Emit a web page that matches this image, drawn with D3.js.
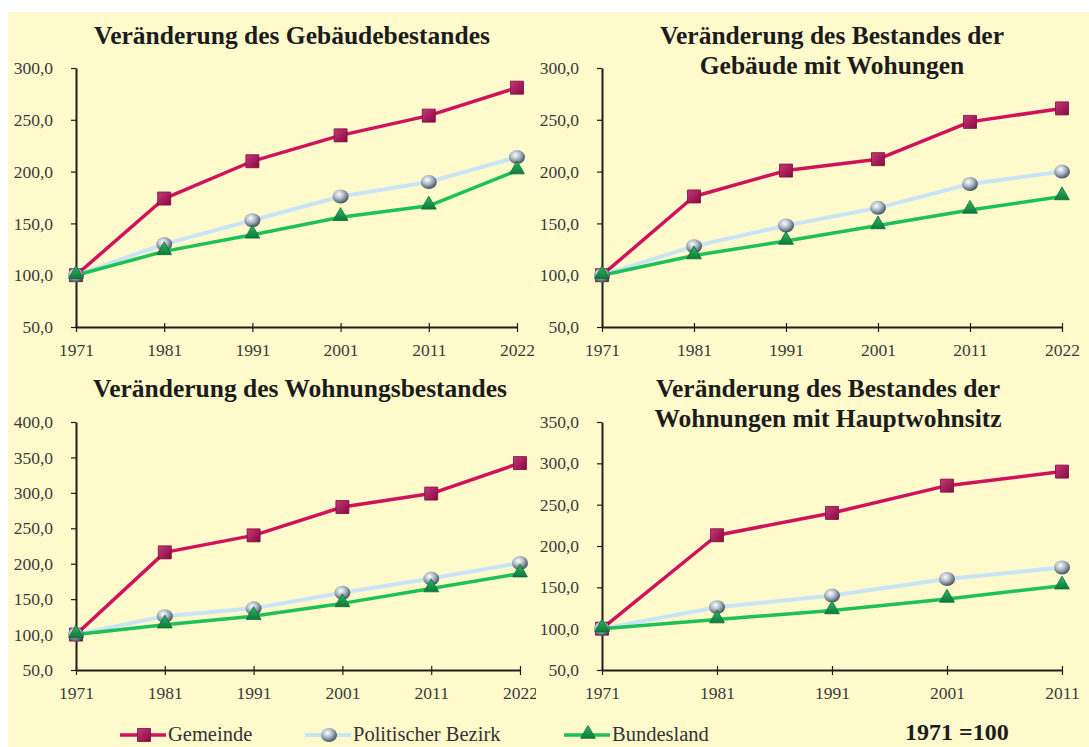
<!DOCTYPE html>
<html>
<head>
<meta charset="utf-8">
<script src="https://cdnjs.cloudflare.com/ajax/libs/d3/7.8.5/d3.min.js"></script>
<style>
  body { margin: 0; background: #fff; }
  svg { display: block; }
  .tick text { font-family: "Liberation Serif", serif; font-size: 17.5px; fill: #3a3a3a; }
  .title { font-family: "Liberation Serif", serif; font-weight: bold; font-size: 25.5px; fill: #1c1c1c; text-anchor: middle; }
  .legend text { font-family: "Liberation Serif", serif; font-size: 20.5px; fill: #333; }
  .note { font-family: "Liberation Serif", serif; font-weight: bold; font-size: 24px; fill: #1c1c1c; }
</style>
</head>
<body>
<div id="chart"></div>
<script>
// categories
var yearsLong = ["1971", "1981", "1991", "2001", "2011", "2022"];
var yearsShort = ["1971", "1981", "1991", "2001", "2011"];
var seriesNames = ["Gemeinde", "Politischer Bezirk", "Bundesland"];

// Gebäudebestand (1971 = 100)
var gebGemeinde = [100, 174, 210, 235, 254, 281];
var gebBezirk = [100, 130, 153, 176, 190, 214];
var gebLand = [100, 123, 139, 156, 167, 201];

// Gebäude mit Wohnungen
var gwoGemeinde = [100, 176, 201, 212, 248, 261];
var gwoBezirk = [100, 128, 148, 165, 188, 200];
var gwoLand = [100, 119, 133, 148, 163, 176];

// Wohnungsbestand
var wohGemeinde = [100, 216, 240, 280, 299, 342];
var wohBezirk = [100, 126, 137, 159, 179, 201];
var wohLand = [100, 114, 126, 144, 165, 186];

// Wohnungen mit Hauptwohnsitz
var hwsGemeinde = [100, 213, 240, 273, 290];
var hwsBezirk = [100, 126, 140, 160, 174];
var hwsLand = [100, 111, 122, 136, 152];

// y tick values
var ticks300 = [50, 100, 150, 200, 250, 300];
var ticks350 = [50, 100, 150, 200, 250, 300, 350];
var ticks400 = [50, 100, 150, 200, 250, 300, 350, 400];

var W = 1089, H = 747;

var lineColors = ["#d0125c", "#c9e4f6", "#1ec156"];

var panels = [
    { title: ["Veränderung des Gebäudebestandes"], years: yearsLong, ticks: ticks300,
      series: [gebGemeinde, gebBezirk, gebLand],
      left: 76, right: 517, top: 68, bottom: 327, titleX: 292, titleY: 44 },
    { title: ["Veränderung des Bestandes der", "Gebäude mit Wohungen"], years: yearsLong, ticks: ticks300,
      series: [gwoGemeinde, gwoBezirk, gwoLand],
      left: 602, right: 1062, top: 68, bottom: 327, titleX: 832, titleY: 44 },
    { title: ["Veränderung des Wohnungsbestandes"], years: yearsLong, ticks: ticks400,
      series: [wohGemeinde, wohBezirk, wohLand],
      left: 76, right: 520, top: 422, bottom: 670, titleX: 300, titleY: 397, clipRight: 536 },
    { title: ["Veränderung des Bestandes der", "Wohnungen mit Hauptwohnsitz"], years: yearsShort, ticks: ticks350,
      series: [hwsGemeinde, hwsBezirk, hwsLand],
      left: 602, right: 1062, top: 422, bottom: 670, titleX: 828, titleY: 397 }
];

var fmt = d3.formatLocale({ decimal: ",", thousands: ".", grouping: [3], currency: ["", ""] }).format(".1f");

var svg = d3.select("#chart").append("svg")
    .attr("width", W)
    .attr("height", H);

// yellow backdrop with white strip at top/left
svg.append("rect")
    .attr("x", 8).attr("y", 12)
    .attr("width", W - 8).attr("height", H - 12)
    .attr("fill", "#fefacb");

var defs = svg.append("defs");

var sq = defs.append("linearGradient").attr("id", "sqGrad")
    .attr("x1", 0).attr("y1", 0).attr("x2", 1).attr("y2", 1);
sq.append("stop").attr("offset", "0%").attr("stop-color", "#c8397a");
sq.append("stop").attr("offset", "100%").attr("stop-color", "#86093f");

var ball = defs.append("radialGradient").attr("id", "ballGrad")
    .attr("cx", "40%").attr("cy", "35%").attr("r", "65%");
ball.append("stop").attr("offset", "0%").attr("stop-color", "#ffffff");
ball.append("stop").attr("offset", "50%").attr("stop-color", "#aab7c3");
ball.append("stop").attr("offset", "100%").attr("stop-color", "#46525f");

var tri = defs.append("linearGradient").attr("id", "triGrad")
    .attr("x1", 0).attr("y1", 0).attr("x2", 0).attr("y2", 1);
tri.append("stop").attr("offset", "0%").attr("stop-color", "#2fb866");
tri.append("stop").attr("offset", "100%").attr("stop-color", "#0c7a3a");

function drawMarker(g, i, cx, cy) {
    if (i === 0) {
        g.append("path")
            .attr("d", d3.symbol().type(d3.symbolSquare).size(169)())
            .attr("transform", "translate(" + cx + "," + cy + ")")
            .attr("fill", "url(#sqGrad)")
            .attr("stroke", "#7a0a3a").attr("stroke-width", 0.8);
    } else if (i === 1) {
        g.append("ellipse")
            .attr("cx", cx).attr("cy", cy)
            .attr("rx", 8).attr("ry", 7)
            .attr("fill", "url(#ballGrad)");
    } else {
        g.append("path")
            .attr("d", d3.symbol().type(d3.symbolTriangle).size(95)())
            .attr("transform", "translate(" + cx + "," + (cy - 1) + ")")
            .attr("fill", "url(#triGrad)")
            .attr("stroke", "#0b6a33").attr("stroke-width", 0.8);
    }
}

panels.forEach(function(p, pi) {
    var g = svg.append("g");

    if (p.clipRight) {
        defs.append("clipPath").attr("id", "clip" + pi)
            .append("rect").attr("x", 0).attr("y", 0)
            .attr("width", p.clipRight).attr("height", H);
        g.attr("clip-path", "url(#clip" + pi + ")");
    }

    var x = d3.scalePoint().domain(p.years).range([p.left, p.right]);
    var y = d3.scaleLinear()
        .domain([p.ticks[0], p.ticks[p.ticks.length - 1]])
        .range([p.bottom, p.top]);

    p.title.forEach(function(t, i) {
        g.append("text")
            .attr("class", "title")
            .attr("x", p.titleX)
            .attr("y", p.titleY + i * 30)
            .text(t);
    });

    // axes
    var yAxis = g.append("g")
        .attr("transform", "translate(" + p.left + ",0)")
        .call(d3.axisLeft(y).tickValues(p.ticks).tickFormat(fmt).tickSize(5).tickSizeOuter(0).tickPadding(18));

    var xAxis = g.append("g")
        .attr("transform", "translate(0," + p.bottom + ")")
        .call(d3.axisBottom(x).tickSize(5).tickSizeOuter(0).tickPadding(12));
    xAxis.selectAll(".tick line").attr("y1", -4);

    // drop d3's default axis font so the serif css wins
    yAxis.attr("font-family", null).attr("font-size", null);
    xAxis.attr("font-family", null).attr("font-size", null);

    g.selectAll(".domain").attr("stroke", "#1e1e1e").attr("stroke-width", 2);
    g.selectAll(".tick line").attr("stroke", "#1e1e1e").attr("stroke-width", 1.2);

    var line = d3.line()
        .x(function(d, i) { return x(p.years[i]); })
        .y(function(d) { return y(d); });

    p.series.forEach(function(vals, si) {
        g.append("path")
            .datum(vals)
            .attr("d", line)
            .attr("fill", "none")
            .attr("stroke", lineColors[si])
            .attr("stroke-width", si === 1 ? 4 : 3.5)
            .attr("stroke-linejoin", "round");
    });

    p.series.forEach(function(vals, si) {
        vals.forEach(function(v, i) {
            drawMarker(g, si, x(p.years[i]), y(v));
        });
    });
});

// legend
var legendX = [120, 305, 564];
var legend = svg.append("g").attr("class", "legend");
seriesNames.forEach(function(name, i) {
    var lx = legendX[i];
    legend.append("line")
        .attr("x1", lx).attr("x2", lx + 46)
        .attr("y1", 735).attr("y2", 735)
        .attr("stroke", lineColors[i])
        .attr("stroke-width", i === 1 ? 4 : 3.5);
    drawMarker(legend, i, lx + 24, 735);
    legend.append("text")
        .attr("x", lx + 48)
        .attr("y", 741)
        .text(name);
});

svg.append("text")
    .attr("class", "note")
    .attr("x", 905)
    .attr("y", 740)
    .text("1971 =100");
</script>
</body>
</html>
